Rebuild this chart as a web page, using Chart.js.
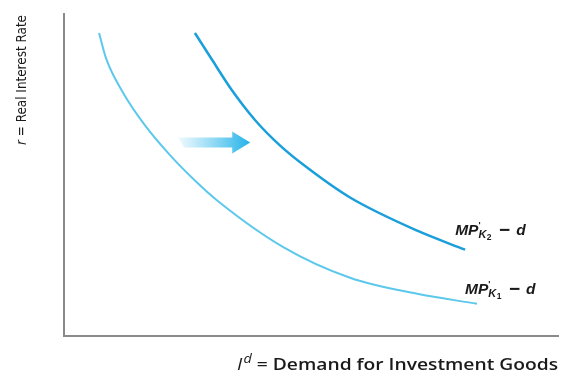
<!DOCTYPE html>
<html>
<head>
<meta charset="utf-8">
<script src="https://cdn.jsdelivr.net/npm/chart.js@4.4.1/dist/chart.umd.min.js"></script>
<style>
  html, body { margin: 0; padding: 0; background: #fff; }
  canvas { display: block; }
</style>
</head>
<body>
<canvas id="grafico" width="561" height="381"></canvas>
<script>
// curva MPK1 - d (clara)
const curva1X = [7.1, 8.5, 11.9, 16.4, 21.5, 26.5, 31.0, 44.3, 57.9, 71.5, 83.6];
const curva1Y = [94.1, 86.3, 75.7, 65.4, 56.1, 48.3, 42.1, 27.7, 18.1, 13.1, 10.0];
// curva MPK2 - d (escura)
const curva2X = [26.5, 30.0, 34.0, 38.7, 43.7, 49.2, 57.9, 71.5, 81.2];
const curva2Y = [94.1, 85.7, 76.3, 67.0, 59.2, 52.3, 43.0, 32.7, 26.8];
// seta de deslocamento
const setaX = [23.1, 37.7];
const setaY = 60.1;

const rotuloEixoY = ['r', ' = Real Interest Rate'];
const rotuloEixoX = ['I', 'd', ' = Demand for Investment Goods'];
const rotulos = [['MP', 'K', '1', '−', 'd'], ['MP', 'K', '2', '−', 'd']];

const pontos = (xs, ys) => xs.map((x, i) => ({ x: x, y: ys[i] }));

const textos = {
    id: 'textos',
    afterDatasetsDraw(chart) {
        const ctx = chart.ctx;
        const sx = chart.scales.x, sy = chart.scales.y;
        ctx.save();

        // seta com gradiente
        const x0 = sx.getPixelForValue(setaX[0]);
        const x1 = sx.getPixelForValue(setaX[1]);
        const yc = sy.getPixelForValue(setaY);
        const g = ctx.createLinearGradient(x0, 0, x1, 0);
        g.addColorStop(0, 'rgba(60,190,236,0.08)');
        g.addColorStop(1, 'rgba(35,178,232,1)');
        ctx.fillStyle = g;
        ctx.beginPath();
        ctx.moveTo(x0, yc - 5);
        ctx.lineTo(x1 - 18, yc - 5);
        ctx.lineTo(x1 - 18, yc - 11);
        ctx.lineTo(x1, yc);
        ctx.lineTo(x1 - 18, yc + 11);
        ctx.lineTo(x1 - 18, yc + 5);
        ctx.lineTo(x0 + 6, yc + 5);
        ctx.closePath();
        ctx.fill();

        ctx.fillStyle = '#1a1a1a';
        ctx.textBaseline = 'alphabetic';

        // rótulos das curvas
        const fins = [
            { d: 0, dx: -12, dy: -10 },
            { d: 1, dx: -10, dy: -15 }
        ];
        fins.forEach((f, i) => {
            const pts = chart.data.datasets[f.d].data;
            const last = pts[pts.length - 1];
            let x = sx.getPixelForValue(last.x) + f.dx;
            const y = sy.getPixelForValue(last.y) + f.dy;
            const r = rotulos[i];
            ctx.font = 'italic bold 15.5px "Liberation Sans", Arial, sans-serif';
            ctx.fillText(r[0], x, y);
            x += ctx.measureText(r[0]).width;
            ctx.font = 'bold 9px "Liberation Sans", Arial, sans-serif';
            ctx.fillText('\'', x, y - 7);
            ctx.font = 'italic bold 11px "Liberation Sans", Arial, sans-serif';
            ctx.fillText(r[1], x, y + 3);
            const wk = ctx.measureText(r[1]).width;
            ctx.font = 'bold 8.5px "Liberation Sans", Arial, sans-serif';
            ctx.fillText(r[2], x + wk + 0.5, y + 5);
            x += wk + ctx.measureText(r[2]).width + 8;
            ctx.font = 'bold 19px "Liberation Sans", Arial, sans-serif';
            ctx.fillText(r[3], x, y + 1);
            x += ctx.measureText(r[3]).width + 6;
            ctx.font = 'italic bold 15.5px "Liberation Sans", Arial, sans-serif';
            ctx.fillText(r[4], x, y);
        });

        // título eixo x (esticado até a largura do original)
        const fI = 'italic 16px "Open Sans", sans-serif';
        const fd = 'italic 12px "Open Sans", sans-serif';
        const fm = '600 16px "Open Sans", sans-serif';
        ctx.font = fI; const wI = ctx.measureText(rotuloEixoX[0]).width + 1;
        ctx.font = fd; const wd = ctx.measureText(rotuloEixoX[1]).width;
        ctx.font = fm; const wm = ctx.measureText(rotuloEixoX[2]).width;
        ctx.save();
        ctx.translate(237, 370);
        ctx.scale(321 / (wI + wd + wm), 1);
        ctx.font = fI; ctx.fillText(rotuloEixoX[0], 0, 0);
        ctx.font = fd; ctx.fillText(rotuloEixoX[1], wI, -7);
        ctx.font = fm; ctx.fillText(rotuloEixoX[2], wI + wd, 0);
        ctx.restore();

        // título eixo y
        const fr = 'italic 14.5px "DejaVu Sans", sans-serif';
        const fy = '14.5px "DejaVu Sans", sans-serif';
        ctx.font = fr; const wr = ctx.measureText(rotuloEixoY[0]).width;
        ctx.font = fy; const wy = ctx.measureText(rotuloEixoY[1]).width;
        ctx.translate(26, 145);
        ctx.rotate(-Math.PI / 2);
        ctx.scale(130 / (wr + wy), 1);
        ctx.font = fr; ctx.fillText(rotuloEixoY[0], 0, 0);
        ctx.font = fy; ctx.fillText(rotuloEixoY[1], wr, 0);
        ctx.restore();
    }
};

new Chart(document.getElementById('grafico'), {
    type: 'line',
    data: {
        datasets: [
            { label: 'MPK1 - d', data: pontos(curva1X, curva1Y), borderColor: '#5cc8ec', borderWidth: 2, pointRadius: 0, cubicInterpolationMode: 'monotone' },
            { label: 'MPK2 - d', data: pontos(curva2X, curva2Y), borderColor: '#1a9fdb', borderWidth: 2.5, pointRadius: 0, cubicInterpolationMode: 'monotone' }
        ]
    },
    options: {
        responsive: false,
        animation: false,
        layout: { padding: { left: 56, top: 14, right: 3, bottom: 37 } },
        plugins: { legend: { display: false }, tooltip: { enabled: false } },
        scales: {
            x: { type: 'linear', min: 0, max: 100, ticks: { display: false }, grid: { display: false }, border: { color: '#8a8a8a', width: 2 } },
            y: { type: 'linear', min: 0, max: 100, ticks: { display: false }, grid: { display: false }, border: { color: '#8a8a8a', width: 2 } }
        }
    },
    plugins: [textos]
});
</script>
</body>
</html>
